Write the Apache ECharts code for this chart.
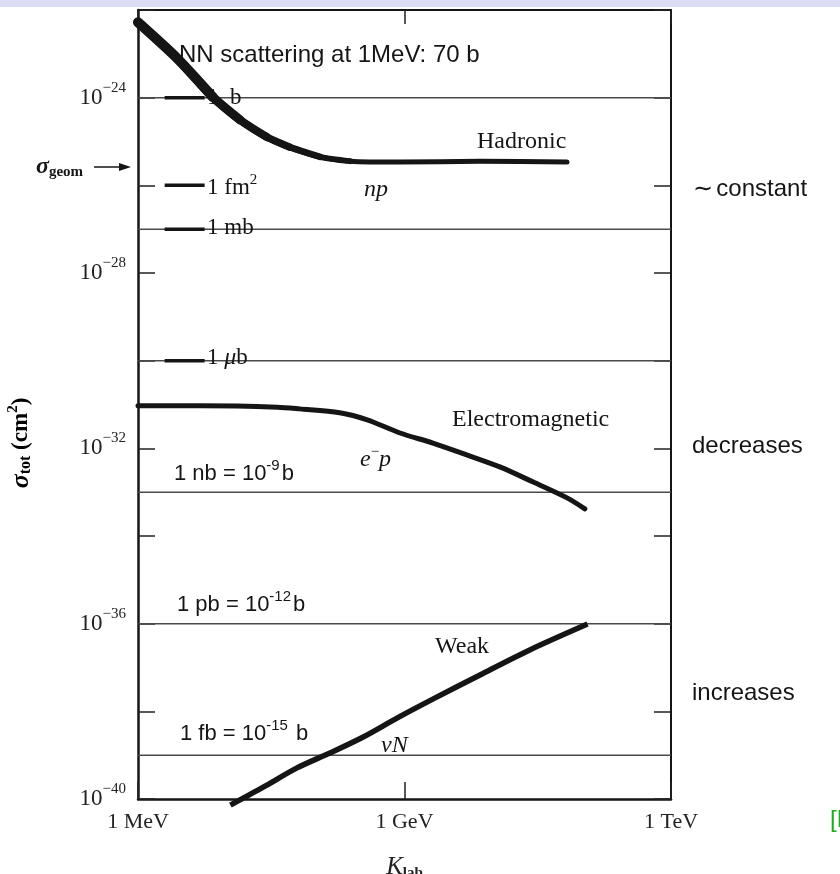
<!DOCTYPE html>
<html>
<head>
<meta charset="utf-8">
<script src="https://cdn.jsdelivr.net/npm/echarts@6/dist/echarts.min.js"></script>
<style>
  html, body { margin: 0; padding: 0; background: #ffffff; }
  #chart { width: 840px; height: 874px; }
</style>
</head>
<body>
<div id="chart"></div>
<script>
// Energies are log10(K_lab / MeV); cross sections are log10(sigma_tot / cm^2).
const xTickExps = [0, 3, 6];
const xTickLabels = ['1 MeV', '1 GeV', '1 TeV'];
const yLabelExps = [-40, -36, -32, -28, -24];

// Hadronic (np)
const hadronicLogE     = [0, 0.44, 0.84, 1.15, 1.45, 1.71, 2.05, 2.39, 2.95, 3.85, 4.83];
const hadronicLogSigma = [-22.28, -23.10, -23.98, -24.51, -24.90, -25.13, -25.35, -25.45, -25.47, -25.45, -25.47];

// Electromagnetic (e-p)
const emLogE     = [0, 0.70, 1.57, 1.82, 2.27, 2.58, 2.95, 3.32, 3.70, 4.08, 4.45, 4.83, 5.03];
const emLogSigma = [-31.03, -31.03, -31.06, -31.10, -31.19, -31.35, -31.65, -31.88, -32.15, -32.43, -32.77, -33.13, -33.38];

// Weak (nu N)
const weakLogE     = [1.04, 1.41, 1.79, 2.16, 2.53, 2.92, 3.34, 3.85, 4.41, 5.06];
const weakLogSigma = [-40.14, -39.73, -39.29, -38.95, -38.59, -38.15, -37.70, -37.17, -36.60, -36.01];

// Unit reference levels: 1 b, 1 mb, 1 ub, 1 nb, 1 pb, 1 fb
const unitLogSigma = [-24, -27, -30, -33, -36, -39];
// Short bars beside the axis: 1 b, 1 fm^2, 1 mb, 1 ub
const barLogSigma = [-24, -26, -27, -30];
const barLogE = [0.30, 0.75];

const SERIF = '"Liberation Serif", "DejaVu Serif", serif';
const SANS = '"Liberation Sans", Arial, sans-serif';
const INK = '#151515';

const chart = echarts.init(document.getElementById('chart'), null, { renderer: 'canvas' });

const series = [];

unitLogSigma.forEach(function (v) {
  series.push({
    type: 'line', silent: true, symbol: 'none', z: 1,
    data: [[xTickExps[0], v], [xTickExps[2], v]],
    lineStyle: { color: '#4a4a4a', width: 1.5 }
  });
});

barLogSigma.forEach(function (v) {
  series.push({
    type: 'line', silent: true, symbol: 'none', z: 2,
    data: [[barLogE[0], v], [barLogE[1], v]],
    lineStyle: { color: INK, width: 3.5 }
  });
});

// Hadronic curve: a full-length stroke, then progressively shorter and thicker
// overlays so the stroke tapers from the low-energy end.
const hadronicPoints = hadronicLogE.map(function (x, i) { return [x, hadronicLogSigma[i]]; });
const hadronicTaper = [[hadronicPoints.length, 5], [8, 5.8], [7, 6.6], [6, 7.4], [5, 8.2], [4, 9], [3, 10]];
hadronicTaper.forEach(function (cfg) {
  series.push({
    type: 'line', silent: true, symbol: 'none', smooth: 0.25, z: 3,
    data: hadronicPoints.slice(0, cfg[0]),
    lineStyle: { color: INK, width: cfg[1], cap: 'round', join: 'round' }
  });
});

series.push({
  type: 'line', silent: true, symbol: 'none', smooth: 0.3, z: 3,
  data: emLogE.map(function (x, i) { return [x, emLogSigma[i]]; }),
  lineStyle: { color: INK, width: 5, cap: 'round', join: 'round' }
});

series.push({
  type: 'line', silent: true, symbol: 'none', smooth: 0.3, clip: false, z: 3,
  data: weakLogE.map(function (x, i) { return [x, weakLogSigma[i]]; }),
  lineStyle: { color: INK, width: 5.5, cap: 'butt', join: 'round' }
});

function label(x, y, text, font, extra) {
  const style = Object.assign({ text: text, x: 0, y: 0, font: font, fill: INK, verticalAlign: 'middle', align: 'left' }, extra || {});
  return { type: 'text', x: x, y: y, z: 10, silent: true, style: style };
}

const serifRich = {
  n: { fontFamily: SERIF, fontSize: 23, color: INK },
  i: { fontFamily: SERIF, fontSize: 24, fontStyle: 'italic', color: INK },
  s: { fontFamily: SERIF, fontSize: 15, color: INK, padding: [0, 0, 16, 0] }
};
const sansRich = {
  n: { fontFamily: SANS, fontSize: 22, color: INK },
  s: { fontFamily: SANS, fontSize: 15, color: INK, padding: [0, 2, 16, 0] }
};

const graphics = [
  { type: 'rect', z: 0, silent: true, shape: { x: 0, y: 0, width: 840, height: 7 }, style: { fill: '#dcdcf3' } },
  label(179, 55, 'NN scattering at 1MeV: 70 b', '24px ' + SANS),
  label(207, 98, '1  b', '23px ' + SERIF),
  label(207, 188, '{n|1 fm}{s|2}', '', { rich: serifRich }),
  label(207, 228, '1 mb', '23px ' + SERIF),
  label(207, 358, '{n|1 }{i|μ}{n|b}', '', { rich: serifRich }),
  label(477, 142, 'Hadronic', '24px ' + SERIF),
  label(364, 190, 'np', 'italic 24px ' + SERIF),
  label(36, 167, '{g|σ}{sub|geom}', '', {
    rich: {
      g: { fontFamily: SERIF, fontSize: 24, fontStyle: 'italic', fontWeight: 'bold', color: INK },
      sub: { fontFamily: SERIF, fontSize: 15, fontWeight: 'bold', color: INK, padding: [10, 0, 0, 0] }
    }
  }),
  { type: 'line', silent: true, z: 10, shape: { x1: 94, y1: 167, x2: 122, y2: 167 }, style: { stroke: INK, lineWidth: 1.5 } },
  { type: 'polygon', silent: true, z: 10, shape: { points: [[119, 163], [131, 167], [119, 171]] }, style: { fill: INK } },
  label(452, 420, 'Electromagnetic', '24px ' + SERIF),
  label(360, 460, '{i|e}{s|−}{i|p}', '', { rich: serifRich }),
  label(174, 474, '{n|1 nb = 10}{s|-9}{n|b}', '', { rich: sansRich }),
  label(177, 605, '{n|1 pb = 10}{s|-12}{n|b}', '', { rich: sansRich }),
  label(435, 647, 'Weak', '24px ' + SERIF),
  label(180, 734, '{n|1 fb = 10}{s|-15}{n| b}', '', { rich: sansRich }),
  label(381, 746, 'νN', 'italic 24px ' + SERIF),
  label(693, 189, '{t|∼} {n|constant}', '', {
    rich: {
      t: { fontFamily: SANS, fontSize: 24, color: '#1a1aff' },
      n: { fontFamily: SANS, fontSize: 24, color: INK }
    }
  }),
  label(692, 446, 'decreases', '24px ' + SANS),
  label(692, 693, 'increases', '24px ' + SANS),
  label(830, 820, '[H', '24px ' + SANS, { fill: '#18b018' }),
  // vertical axis title
  {
    type: 'text', x: 21, y: 443, rotation: Math.PI / 2, z: 10, silent: true,
    style: {
      text: '{g|σ}{sub|tot}{n| (cm}{sup|2}{n|)}', x: 0, y: 0, align: 'center', verticalAlign: 'middle',
      rich: {
        g: { fontFamily: SERIF, fontSize: 26, fontStyle: 'italic', fontWeight: 'bold', color: '#222' },
        sub: { fontFamily: SERIF, fontSize: 16, fontWeight: 'bold', color: '#222', padding: [10, 0, 0, 0] },
        n: { fontFamily: SERIF, fontSize: 23, fontWeight: 'bold', color: '#222' },
        sup: { fontFamily: SERIF, fontSize: 15, fontWeight: 'bold', color: '#222', padding: [0, 0, 16, 0] }
      }
    }
  }
];

const yLabelRich = {
  b: { fontFamily: SERIF, fontSize: 23, color: '#222' },
  s: { fontFamily: SERIF, fontSize: 15, color: '#222', padding: [0, 0, 20, 0] }
};

const option = {
  animation: false,
  backgroundColor: '#ffffff',
  grid: { left: 138, right: 169, top: 10, bottom: 75, containLabel: false, outerBoundsMode: 'none' },
  xAxis: [
    {
      type: 'value', position: 'bottom', min: 0, max: 6, interval: 3,
      axisLine: { onZero: false, lineStyle: { color: INK, width: 2.5 } },
      axisTick: { inside: true, length: 17, lineStyle: { color: '#222', width: 1.5 } },
      axisLabel: {
        margin: 12, fontFamily: SERIF, fontSize: 22, color: '#222',
        formatter: function (v) { const k = xTickExps.indexOf(v); return k >= 0 ? xTickLabels[k] : ''; }
      },
      splitLine: { show: false },
      name: '{k|K}{sub|lab}', nameLocation: 'middle', nameGap: 55,
      nameTextStyle: {
        rich: {
          k: { fontFamily: SERIF, fontSize: 25, fontStyle: 'italic', color: '#222' },
          sub: { fontFamily: SERIF, fontSize: 15, fontWeight: 'bold', color: '#222', padding: [12, 0, 0, 0] }
        }
      }
    },
    {
      type: 'value', position: 'top', min: 0, max: 6, interval: 3,
      axisLine: { onZero: false, lineStyle: { color: INK, width: 2 } },
      axisTick: { inside: true, length: 14, lineStyle: { color: '#222', width: 1.5 } },
      axisLabel: { show: false },
      splitLine: { show: false }
    }
  ],
  yAxis: [
    {
      type: 'value', position: 'left', min: -40, max: -22, interval: 2,
      axisLine: { onZero: false, lineStyle: { color: INK, width: 2.5 } },
      axisTick: { inside: true, length: 17, lineStyle: { color: '#222', width: 1.5 } },
      axisLabel: {
        margin: 12, rich: yLabelRich,
        formatter: function (v) { return yLabelExps.indexOf(v) >= 0 ? '{b|10}{s|−' + (-v) + '}' : ''; }
      },
      splitLine: { show: false }
    },
    {
      type: 'value', position: 'right', min: -40, max: -22, interval: 2,
      axisLine: { onZero: false, lineStyle: { color: INK, width: 2 } },
      axisTick: { inside: true, length: 17, lineStyle: { color: '#222', width: 1.5 } },
      axisLabel: { show: false },
      splitLine: { show: false }
    }
  ],
  graphic: graphics,
  series: series
};

chart.setOption(option);
</script>
</body>
</html>
